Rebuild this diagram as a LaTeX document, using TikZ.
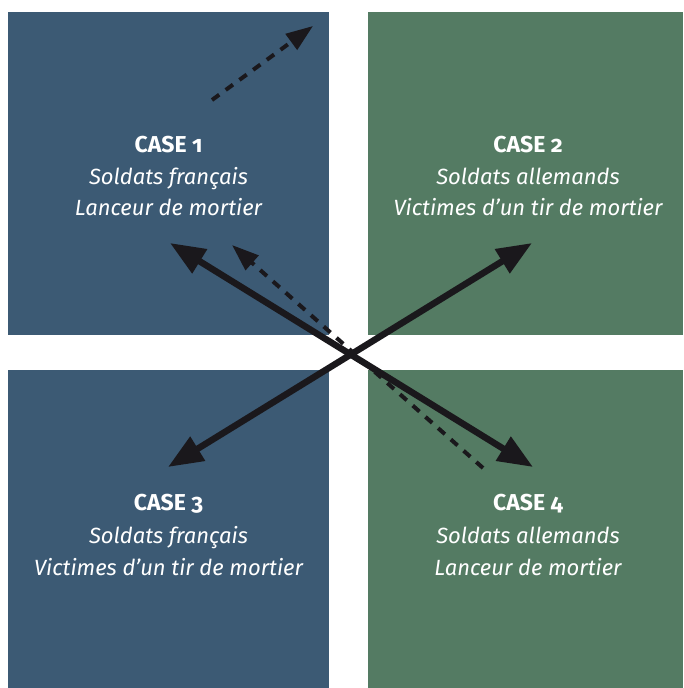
\documentclass[tikz,border=0pt]{standalone}
\usepackage{fontspec}
\setmainfont[Numbers=OldStyle]{Fira Sans}
\usetikzlibrary{arrows.meta}
\definecolor{casblue}{HTML}{3C5A74}
\definecolor{casgreen}{HTML}{547B63}
\definecolor{arrowink}{HTML}{1A181C}
\begin{document}
\begin{tikzpicture}[x=1pt, y=-1pt,
  txt/.style={text=white, anchor=base, inner sep=0pt, font=\fontsize{22}{26}\selectfont\itshape},
  hd/.style={txt, font=\fontsize{23}{26}\selectfont\bfseries},
  bigarrow/.style={draw=arrowink, line width=6.5pt, {Triangle[length=35pt,width=27pt]}-{Triangle[length=35pt,width=27pt]}},
  dasharrow/.style={draw=arrowink, line width=4pt, dash pattern=on 9pt off 8pt, -{Triangle[length=27pt,width=19pt]}}]
\useasboundingbox (0,0) rectangle (683,688);
% the four cases
\fill[casblue]  (8,12)   rectangle (329,335);
\fill[casgreen] (368,12) rectangle (683,335);
\fill[casblue]  (8,370)  rectangle (329,688);
\fill[casgreen] (368,370) rectangle (683,688);
\node[hd]  (case1)  at (168.5,152) {CASE 1};
\node[txt] (case1a) at (168.5,184) {Soldats français};
\node[txt] (case1b) at (168.5,215) {Lanceur de mortier};
\node[hd]  (case2)  at (528,152) {CASE 2};
\node[txt] (case2a) at (528,184) {Soldats allemands};
\node[txt] (case2b) at (528,215) {Victimes d’un tir de mortier};
\node[hd]  (case3)  at (168.5,510) {CASE 3};
\node[txt] (case3a) at (168.5,543) {Soldats français};
\node[txt] (case3b) at (168.5,575) {Victimes d’un tir de mortier};
\node[hd]  (case4)  at (528,510) {CASE 4};
\node[txt] (case4a) at (528,543) {Soldats allemands};
\node[txt] (case4b) at (528,575) {Lanceur de mortier};
% arrows
\path (170,243) coordinate (nw) (533,467) coordinate (se)
      (168,467) coordinate (sw) (532,243) coordinate (ne)
      (483,468) coordinate (dse) (232,245) coordinate (dnw)
      (212,100) coordinate (up0) (313,26) coordinate (up1);
\draw[dasharrow] (dse) -- (dnw);
\draw[dasharrow] (up0) -- (up1);
\draw[bigarrow] (nw) -- (se);
\draw[bigarrow] (sw) -- (ne);
\end{tikzpicture}
\end{document}
